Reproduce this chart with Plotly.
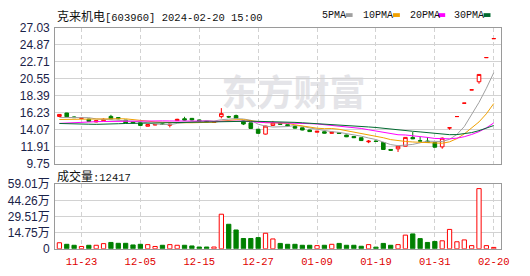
import plotly.graph_objects as go

W, H = 530, 276

dates = ["2023-11-20","2023-11-21","2023-11-22","2023-11-23","2023-11-24","2023-11-27","2023-11-28","2023-11-29","2023-11-30","2023-12-01",
         "2023-12-04","2023-12-05","2023-12-06","2023-12-07","2023-12-08","2023-12-11","2023-12-12","2023-12-13","2023-12-14","2023-12-15",
         "2023-12-18","2023-12-19","2023-12-20","2023-12-21","2023-12-22","2023-12-25","2023-12-26","2023-12-27","2023-12-28","2023-12-29",
         "2024-01-02","2024-01-03","2024-01-04","2024-01-05","2024-01-08","2024-01-09","2024-01-10","2024-01-11","2024-01-12","2024-01-15",
         "2024-01-16","2024-01-17","2024-01-18","2024-01-19","2024-01-22","2024-01-23","2024-01-24","2024-01-25","2024-01-26","2024-01-29",
         "2024-01-30","2024-01-31","2024-02-01","2024-02-02","2024-02-05","2024-02-06","2024-02-07","2024-02-08","2024-02-19","2024-02-20"]

open_ = [15.74,16.18,15.68,15.50,15.40,15.05,15.20,15.75,15.60,15.28,
         15.05,14.95,14.50,14.65,14.80,14.62,15.22,15.45,15.50,15.30,
         15.15,15.00,15.72,15.72,15.85,15.17,14.93,14.12,13.50,14.60,
         14.88,14.70,14.48,14.30,14.02,13.74,13.80,13.60,13.68,13.38,
         13.20,13.04,12.52,12.62,12.43,11.55,11.63,11.96,13.08,12.66,
         12.62,12.43,11.88,14.28,15.73,17.43,19.12,20.15,23.22,25.63]
high = [16.05,16.20,15.75,15.60,15.45,15.22,15.50,15.95,15.65,15.30,
        15.08,14.97,14.75,14.75,14.85,14.80,15.45,15.70,15.55,15.32,
        15.18,15.10,16.80,15.82,15.98,15.20,14.95,14.15,14.55,15.17,
        14.92,14.72,14.50,14.32,14.05,13.90,13.82,13.78,13.72,13.42,
        13.25,13.06,12.75,12.66,12.50,11.60,11.98,13.10,13.76,13.15,
        13.10,12.45,13.08,14.30,15.73,17.43,19.12,21.08,23.22,25.63]
low = [15.70,15.68,15.55,15.45,15.08,15.00,15.15,15.40,15.40,14.90,
       14.90,14.55,14.48,14.62,14.70,14.35,15.18,15.22,15.25,15.10,
       15.00,14.98,15.50,15.55,15.48,14.65,14.15,13.55,13.45,14.58,
       14.70,14.50,14.22,13.98,13.80,13.70,13.58,13.56,13.55,13.12,
       13.00,12.65,12.35,12.52,11.50,11.38,11.23,11.94,12.86,12.60,
       12.42,11.80,11.64,14.05,15.73,17.43,19.12,19.90,23.22,25.63]
close = [16.00,15.70,15.60,15.56,15.11,15.20,15.38,15.43,15.45,14.92,
         14.93,14.60,14.72,14.72,14.72,14.75,15.38,15.28,15.30,15.15,
         15.05,15.04,16.10,15.68,15.50,14.78,14.22,13.60,14.52,14.90,
         14.75,14.55,14.26,14.02,13.82,13.86,13.62,13.74,13.58,13.16,
         13.04,12.68,12.60,12.57,11.55,11.45,11.96,13.08,12.90,12.62,
         12.45,11.84,12.98,14.30,15.73,17.43,19.12,21.08,23.22,25.63]

# volume in 万 (10k) units
volume = [5.5,4.1,3.2,2.1,3.2,3.2,4.7,5.8,5.0,5.0,
          3.5,4.1,3.8,2.1,3.2,3.8,3.2,3.2,2.6,1.6,
          1.6,1.6,31.6,22.4,17.2,9.4,9.4,10.2,14.2,9.0,
          4.9,4.1,4.1,3.2,3.2,2.9,3.2,4.1,4.9,3.2,
          3.2,2.3,3.8,1.5,4.9,3.2,3.8,12.5,13.6,9.3,
          5.8,6.7,7.3,17.7,6.4,8.1,2.9,55.0,2.9,1.2417]

ma5 = [15.62,15.62,15.60,15.60,15.59,15.43,15.37,15.34,15.31,15.28,
       15.22,15.07,14.92,14.78,14.74,14.70,14.86,14.97,15.09,15.17,
       15.23,15.16,15.33,15.40,15.47,15.42,15.26,14.76,14.52,14.40,
       14.40,14.46,14.60,14.50,14.28,14.10,13.92,13.81,13.72,13.59,
       13.43,13.24,13.01,12.81,12.49,12.17,12.03,12.12,12.19,12.40,
       12.60,12.58,12.56,12.84,13.46,14.46,15.91,17.53,19.32,21.30]
ma10 = [15.36,15.38,15.40,15.42,15.43,15.44,15.44,15.45,15.45,15.44,
        15.33,15.22,15.13,15.05,15.01,14.96,14.97,14.95,14.94,14.96,
        14.97,15.01,15.15,15.25,15.32,15.33,15.21,15.05,14.96,14.94,
        14.91,14.86,14.68,14.51,14.34,14.25,14.19,14.21,14.11,13.94,
        13.77,13.58,13.41,13.27,13.04,12.80,12.64,12.57,12.50,12.45,
        12.39,12.31,12.34,12.52,12.93,13.53,14.25,15.05,16.08,17.38]
ma20 = [14.86,14.92,14.98,15.03,15.06,15.08,15.10,15.12,15.14,15.16,
        15.18,15.19,15.19,15.19,15.18,15.17,15.18,15.19,15.19,15.20,
        15.15,15.12,15.14,15.15,15.17,15.15,15.09,15.00,14.95,14.95,
        14.94,14.94,14.92,14.88,14.83,14.79,14.70,14.63,14.54,14.44,
        14.34,14.22,14.05,13.89,13.69,13.53,13.42,13.39,13.31,13.20,
        13.08,12.95,12.88,12.90,12.99,13.17,13.45,13.81,14.29,14.92]
ma30 = [14.85,14.85,14.84,14.80,14.76,14.74,14.74,14.78,14.82,14.85,
        14.87,14.88,14.89,14.90,14.92,14.95,14.99,15.04,15.08,15.10,
        15.10,15.11,15.14,15.16,15.17,15.16,15.14,15.12,15.11,15.11,
        15.07,15.03,14.99,14.94,14.89,14.85,14.79,14.74,14.67,14.61,
        14.55,14.48,14.41,14.34,14.23,14.13,14.01,13.94,13.86,13.78,
        13.69,13.58,13.48,13.43,13.44,13.53,13.69,13.94,14.23,14.59]

price_ticks = [9.75, 11.91, 14.07, 16.23, 18.39, 20.55, 22.71, 24.87, 27.03]
vol_ticks = [0, 14.75, 29.51, 44.26, 59.01]
vol_ticktext = ["0", "14.75万", "29.51万", "44.26万", "59.01万"]
date_tick_idx = [3, 11, 19, 27, 35, 43, 51, 59]

RED = "#ff0000"
GREEN = "#008000"
MA_COLORS = ["#a0a0a0", "#f0a000", "#ff00ff", "#006a30"]
GRID = "#d2d2d2"
BORDER = "#9a9a9a"
LABEL = "#1a2248"

n = len(dates)
up = [close[i] >= open_[i] for i in range(n)]

def pick(arr, flag):
    return [arr[i] if up[i] == flag else None for i in range(n)]

def px_x(x):
    return x / W

def px_y(y):
    return 1 - y / H

x0_px, x1_px = 56, 509
price_top, price_bot = 21.7, 165.0
vol_top, vol_bot = 186.7, 254.7
xrange_ = [-0.575, 60.03]

fig = go.Figure()

for flag, col, fill in [(True, RED, "white"), (False, GREEN, GREEN)]:
    fig.add_trace(go.Candlestick(
        x=dates, open=pick(open_, flag), high=pick(high, flag),
        low=pick(low, flag), close=pick(close, flag),
        increasing=dict(line=dict(color=col, width=1), fillcolor=fill),
        decreasing=dict(line=dict(color=col, width=1), fillcolor=fill),
        whiskerwidth=0, xaxis="x", yaxis="y", hoverinfo="skip", showlegend=False))

for ma, col in zip([ma5, ma10, ma20, ma30], MA_COLORS):
    fig.add_trace(go.Scatter(x=dates, y=ma, mode="lines", line=dict(color=col, width=1),
                             xaxis="x", yaxis="y", hoverinfo="skip", showlegend=False))

for flag, col, fill in [(True, RED, "white"), (False, GREEN, GREEN)]:
    fig.add_trace(go.Bar(x=dates, y=pick(volume, flag), width=0.58,
                         marker=dict(color=fill, line=dict(color=col, width=1)),
                         xaxis="x2", yaxis="y2", hoverinfo="skip", showlegend=False))

xcommon = dict(type="category", range=xrange_, domain=[px_x(x0_px), px_x(x1_px)],
               tickmode="array", tickvals=[dates[i] for i in date_tick_idx],
               ticktext=[dates[i][5:] for i in date_tick_idx],
               showgrid=True, gridcolor=GRID, gridwidth=1, griddash="4px,3px",
               showline=True, linecolor=BORDER, linewidth=1, mirror=True,
               zeroline=False, ticks="", fixedrange=True)
ycommon = dict(showgrid=True, gridcolor=GRID, gridwidth=1, showline=True, linecolor=BORDER,
               linewidth=1, mirror=True, zeroline=False, ticks="", fixedrange=True,
               tickfont=dict(family="Liberation Sans, Noto Sans CJK SC", size=12, color=LABEL),
               ticklabelstandoff=2)

fig.update_layout(
    width=W, height=H, margin=dict(l=0, r=0, t=0, b=0),
    paper_bgcolor="white", plot_bgcolor="white",
    barmode="overlay", showlegend=False,
    xaxis=dict(**xcommon, anchor="y", showticklabels=False, rangeslider=dict(visible=False)),
    xaxis2=dict(**xcommon, anchor="y2", showticklabels=True, ticklabelstandoff=3,
                tickfont=dict(family="Liberation Mono", size=10.5, color="#e00000")),
    yaxis=dict(**ycommon, domain=[px_y(price_bot), px_y(price_top)], range=[price_ticks[0], price_ticks[-1]],
               tickmode="array", tickvals=price_ticks, ticktext=[f"{v:.2f}" for v in price_ticks]),
    yaxis2=dict(**ycommon, domain=[px_y(vol_bot), px_y(vol_top)], range=[vol_ticks[0], vol_ticks[-1]],
                tickmode="array", tickvals=vol_ticks, ticktext=vol_ticktext),
)

# watermark (below grid)
fig.add_shape(type="rect", xref="paper", yref="paper",
              x0=px_x(200), x1=px_x(396), y0=px_y(112), y1=px_y(75),
              line=dict(width=0), fillcolor="rgba(0,0,0,0)", layer="below",
              label=dict(text="东方财富", textposition="middle center",
                         font=dict(family="Noto Sans CJK SC", size=36, color="#e4e4e8", weight="bold")))

# title
fig.add_annotation(xref="paper", yref="paper", x=px_x(56), y=px_y(8.5), xanchor="left", yanchor="middle",
                   showarrow=False,
                   text='<span style="font-family:Noto Sans CJK SC;font-size:12px">克来机电</span>[603960] 2024-02-20 15:00',
                   font=dict(family="Liberation Mono", size=10.5, color="#111111"))

# volume label
fig.add_annotation(xref="paper", yref="paper", x=px_x(56), y=px_y(178), xanchor="left", yanchor="middle",
                   showarrow=False,
                   text=f'<span style="font-family:Noto Sans CJK SC;font-size:12px">成交量</span>:{round(volume[-1]*10000)}',
                   font=dict(family="Liberation Mono", size=10.5, color="#111111"))

# MA legend
legend_items = [("5PMA", 325, 351), ("10PMA", 366.5, 399), ("20PMA", 414, 445), ("30PMA", 459, 491)]
for (name, tx, sx), col in zip(legend_items, MA_COLORS):
    fig.add_annotation(xref="paper", yref="paper", x=px_x(tx), y=px_y(8.5), xanchor="left", yanchor="middle",
                       showarrow=False, text=name,
                       font=dict(family="Liberation Mono", size=10, color="#111111"))
    fig.add_shape(type="rect", xref="paper", yref="paper", x0=px_x(sx), x1=px_x(sx + 7),
                  y0=px_y(10.5), y1=px_y(6.5), line=dict(width=0), fillcolor=col)

fig.write_html("out.html")
